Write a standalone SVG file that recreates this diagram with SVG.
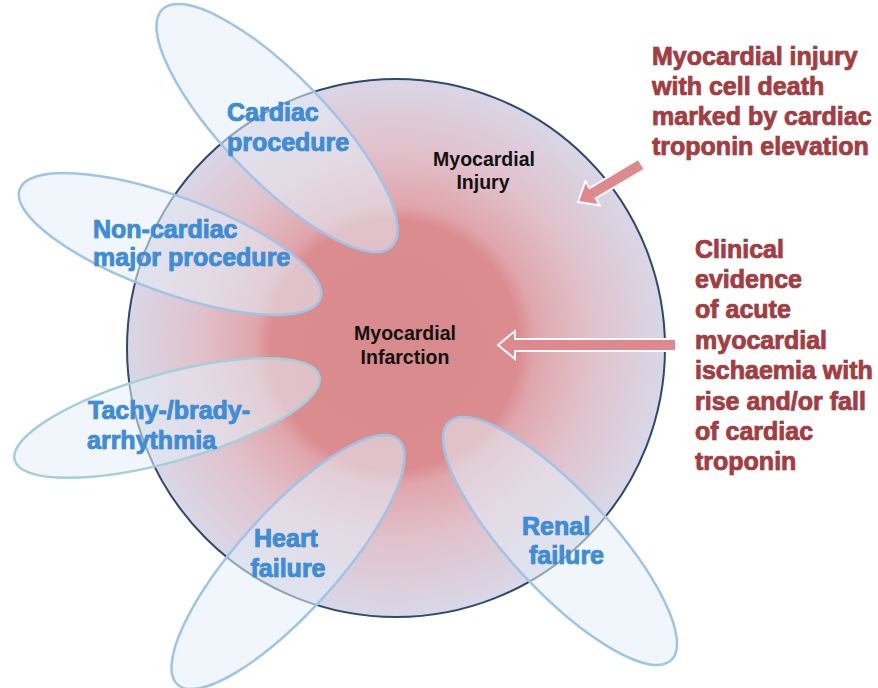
<svg xmlns="http://www.w3.org/2000/svg" width="878" height="688" viewBox="0 0 878 688">
<defs>
<radialGradient id="g" cx="395" cy="345" r="270" gradientUnits="userSpaceOnUse">
<stop offset="0" stop-color="#d98a8c"/>
<stop offset="0.46" stop-color="#db8c8f"/>
<stop offset="0.52" stop-color="#e0a6ac"/>
<stop offset="0.72" stop-color="#e1c1cb"/>
<stop offset="1" stop-color="#d9d7e7"/>
</radialGradient>
<style>
.ell{fill:#e4eef8;fill-opacity:0.55;stroke:#9fc4e6;stroke-width:2.5}
.blue{font-family:"Liberation Sans",Arial,sans-serif;font-weight:bold;font-size:25px;fill:#3b8edc;stroke:#1f6db8;stroke-width:0.7;paint-order:stroke}
.red{font-family:"Liberation Sans",Arial,sans-serif;font-weight:bold;font-size:25px;fill:#a83b40;stroke:#7a2226;stroke-width:0.7;paint-order:stroke}
.blk{font-family:"Liberation Sans",Arial,sans-serif;font-weight:bold;font-size:19.5px;fill:#111;text-anchor:middle}
.arr{fill:#dd898e;stroke:#fff;stroke-width:2}
</style>
</defs>
<g id="circle">
<circle cx="396" cy="348" r="269" fill="url(#g)" stroke="#2d4a6c" stroke-width="2"/>
<text class="blk" x="484" y="166">Myocardial</text>
<text class="blk" x="483" y="189">Injury</text>
<text class="blk" x="405" y="340">Myocardial</text>
<text class="blk" x="405" y="364">Infarction</text>
</g>
<g id="cardiac">
<ellipse class="ell" cx="277" cy="128" rx="165" ry="52" transform="rotate(46 277 128)"/>
<text class="blue" x="227" y="121">Cardiac</text>
<text class="blue" x="227" y="151">procedure</text>
</g>
<g id="noncardiac">
<ellipse class="ell" cx="170" cy="244" rx="160" ry="48" transform="rotate(20 170 244)"/>
<text class="blue" x="93" y="238">Non-cardiac</text>
<text class="blue" x="93" y="266">major procedure</text>
</g>
<g id="tachy">
<ellipse class="ell" cx="167" cy="418" rx="158" ry="44" transform="rotate(-15.5 167 418)" style="stroke:#a4cfd8"/>
<text class="blue" x="88" y="419">Tachy-/brady-</text>
<text class="blue" x="87" y="449">arrhythmia</text>
</g>
<g id="heart">
<ellipse class="ell" cx="288" cy="562" rx="165" ry="50" transform="rotate(-48 288 562)"/>
<text class="blue" x="286" y="547" text-anchor="middle">Heart</text>
<text class="blue" x="288" y="577" text-anchor="middle">failure</text>
</g>
<g id="renal">
<ellipse class="ell" cx="560" cy="541" rx="163" ry="50" transform="rotate(47 560 541)"/>
<text class="blue" x="522" y="535">Renal</text>
<text class="blue" x="529" y="564">failure</text>
</g>
<g id="injury-label">
<text class="red" x="652" y="65">Myocardial injury</text>
<text class="red" x="652" y="95">with cell death</text>
<text class="red" x="652" y="125">marked by cardiac</text>
<text class="red" x="652" y="155">troponin elevation</text>
</g>
<g id="mi-label">
<text class="red" x="695" y="258">Clinical</text>
<text class="red" x="695" y="288">evidence</text>
<text class="red" x="695" y="318">of acute</text>
<text class="red" x="695" y="349">myocardial</text>
<text class="red" x="695" y="379">ischaemia with</text>
<text class="red" x="695" y="410">rise and/or fall</text>
<text class="red" x="695" y="440">of cardiac</text>
<text class="red" x="695" y="470">troponin</text>
</g>
<g id="connectors">
<polygon class="arr" transform="translate(578 202) rotate(-30.8)" points="0,0 17,-14 17,-6 74,-6 74,6 17,6 17,14"/>
<polygon class="arr" transform="translate(498 345)" points="0,0 17,-14 17,-6 178,-6 178,6 17,6 17,14"/>
</g>
</svg>
